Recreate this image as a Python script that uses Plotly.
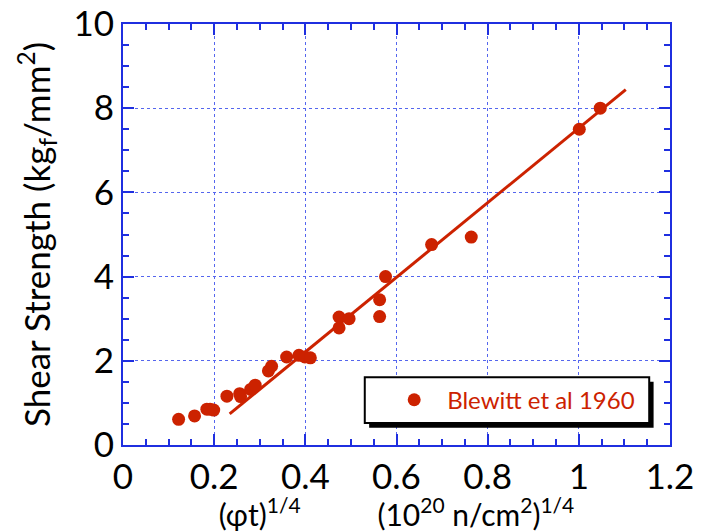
import plotly.graph_objects as go

# data
x_pts = [0.122, 0.157, 0.184, 0.191, 0.199, 0.228, 0.256, 0.258, 0.280, 0.290,
         0.319, 0.326, 0.359, 0.386, 0.399, 0.411, 0.474, 0.474, 0.496,
         0.563, 0.563, 0.576, 0.677, 0.764, 1.001, 1.047]
y_pts = [0.61, 0.69, 0.85, 0.85, 0.83, 1.16, 1.22, 1.15, 1.32, 1.42,
         1.76, 1.87, 2.09, 2.13, 2.09, 2.07, 2.78, 3.04, 3.00,
         3.05, 3.45, 4.00, 4.76, 4.94, 7.50, 8.00]
fit_x = [0.234, 1.103]
fit_y = [0.74, 8.44]
series_name = "Blewitt et al 1960"
x_tickvals = [0, 0.2, 0.4, 0.6, 0.8, 1.0, 1.2]
x_ticktext = ["0", "0.2", "0.4", "0.6", "0.8", "1", "1.2"]

RED = "#cc2200"
BLUE = "#1f2fe0"
FONT = "Lato"
NB = "\u00a0"

x_title = ("(φt)<sup>1/4</sup>" + NB * 10 +
           "(10<sup>20</sup> n/cm<sup>2</sup>)<sup>1/4</sup>")

fig = go.Figure()
fig.add_trace(go.Scatter(x=fit_x, y=fit_y, mode="lines",
                         line=dict(color=RED, width=3), showlegend=False,
                         hoverinfo="skip"))
fig.add_trace(go.Scatter(x=x_pts, y=y_pts, mode="markers", name=series_name,
                         marker=dict(color=RED, size=13)))

axis_common = dict(
    showline=True, linecolor=BLUE, linewidth=2, mirror="ticks",
    ticks="inside", ticklen=11, tickwidth=2, tickcolor=BLUE,
    showgrid=True, gridcolor="#5566ee", gridwidth=1, griddash="dot",
    zeroline=False, automargin=False,
    tickfont=dict(family=FONT, size=35, color="black"),
)

fig.update_xaxes(range=[0, 1.2], tickvals=x_tickvals, ticktext=x_ticktext,
                 minor=dict(dtick=0.05, ticks="inside", ticklen=6, tickcolor=BLUE, tickwidth=2, showgrid=False),
                 title=dict(text=x_title,
                            font=dict(family=FONT, size=30, color="black"), standoff=9),
                 **axis_common)
fig.update_yaxes(range=[0, 10], dtick=2,
                 minor=dict(dtick=0.5, ticks="inside", ticklen=6, tickcolor=BLUE, tickwidth=2, showgrid=False),
                 title=dict(text="Shear Strength (kg<sub>f</sub>/mm<sup>2</sup>)",
                            font=dict(family=FONT, size=35, color="black"), standoff=12),
                 **axis_common)

# legend box with shadow (paper coords)
L, R, T, B = 0.442, 0.962, 0.161, 0.052
fig.add_shape(type="rect", xref="paper", yref="paper",
              x0=L + 0.008, x1=R + 0.008, y0=B - 0.011, y1=T - 0.011,
              fillcolor="black", line=dict(width=0), layer="above")
fig.add_shape(type="rect", xref="paper", yref="paper",
              x0=L, x1=R, y0=B, y1=T,
              fillcolor="white", line=dict(color="black", width=2), layer="above")

fig.update_layout(
    width=707, height=532,
    margin=dict(l=123, r=37, t=24, b=87),
    paper_bgcolor="white", plot_bgcolor="white",
    showlegend=True,
    legend=dict(x=L + 0.03, y=(T + B) / 2, xanchor="left", yanchor="middle",
                bgcolor="rgba(0,0,0,0)", borderwidth=0, itemwidth=56,
                font=dict(family=FONT, size=24, color=RED)),
)

fig.write_html("out.html")
